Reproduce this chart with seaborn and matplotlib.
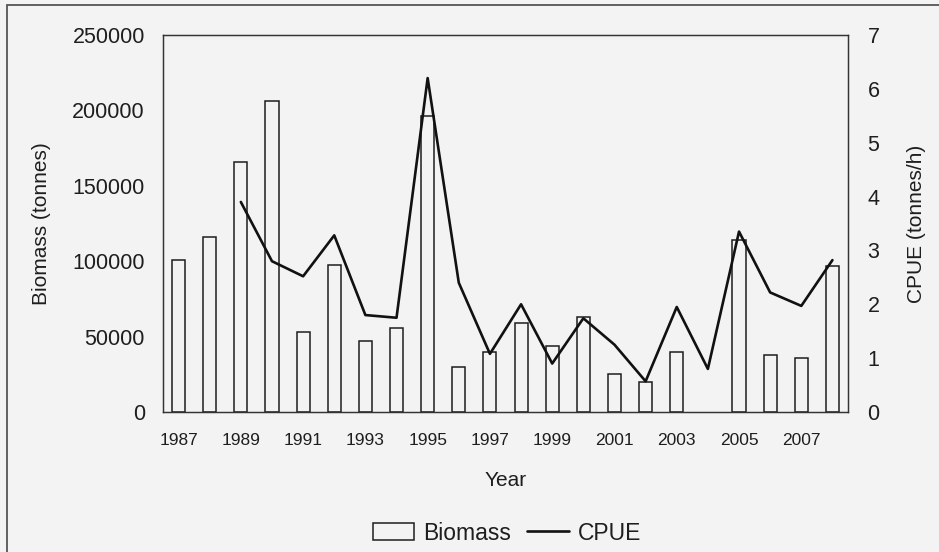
import matplotlib
matplotlib.use("Agg")
import matplotlib.pyplot as plt
from matplotlib.patches import Patch, Rectangle
from matplotlib.lines import Line2D
import numpy as np
import pandas as pd
import seaborn as sns

# ---- data ----
years = list(range(1987, 2009))
biomass = [101000, 116000, 166000, 206000, 53000, 97500, 47000, 55500,
           196000, 30000, 40000, 59000, 44000, 63000, 25000, 20000,
           39500, np.nan, 114000, 38000, 36000, 96500]
cpue_years = list(range(1989, 2009))
cpue = [3.9, 2.8, 2.52, 3.28, 1.8, 1.75, 6.2, 2.4, 1.08, 2.0,
        0.9, 1.74, 1.25, 0.57, 1.95, 0.8, 3.35, 2.22, 1.97, 2.82]
xtick_years = years[::2]

bg = "#f3f3f3"
ink = "#1e1e1e"

sns.set_theme(style="white")
plt.rcParams["font.family"] = ["Liberation Sans", "DejaVu Sans"]
plt.rcParams["text.color"] = ink
plt.rcParams["axes.labelcolor"] = ink
plt.rcParams["xtick.color"] = ink
plt.rcParams["ytick.color"] = ink

fig = plt.figure(figsize=(9.39, 5.52), dpi=100, facecolor=bg)
ax = fig.add_axes([163/939, 1-412/552, (848-163)/939, (412-35)/552])
ax.set_facecolor(bg)

df_b = pd.DataFrame({"Year": [str(y) for y in years], "Biomass": biomass})
sns.barplot(data=df_b, x="Year", y="Biomass", order=[str(y) for y in years],
            color=bg, edgecolor=ink, linewidth=1.1, width=0.42, ax=ax,
            saturation=1)
ax.set_ylim(0, 250000)
ax.set_yticks(np.arange(0, 250001, 50000))
ax.set_yticklabels([f"{v:d}" for v in range(0, 250001, 50000)], fontsize=15.5)
ax.set_xticks(range(0, len(years), 2))
ax.set_xticklabels([str(y) for y in xtick_years], fontsize=12.5)
ax.tick_params(axis="both", length=0)
ax.tick_params(axis="y", pad=13)
ax.tick_params(axis="x", pad=15)
ax.set_xlabel("Year", fontsize=15, labelpad=17)
ax.set_ylabel("Biomass (tonnes)", fontsize=15, labelpad=15)

ax2 = ax.twinx()
df_c = pd.DataFrame({"pos": [y - years[0] for y in cpue_years], "CPUE": cpue})
sns.lineplot(data=df_c, x="pos", y="CPUE", color="#111111", linewidth=1.9,
             ax=ax2, legend=False)
ax2.set_ylim(0, 7)
ax2.set_yticks(range(0, 8))
ax2.set_yticklabels([str(v) for v in range(0, 8)], fontsize=15.5)
ax2.tick_params(axis="y", length=0, pad=14)
ax2.set_ylabel("CPUE (tonnes/h)", fontsize=15, labelpad=20)
ax2.set_xlim(-0.5, len(years) - 0.5)

for a in (ax, ax2):
    for s in a.spines.values():
        s.set_color("#333333")
        s.set_linewidth(0.9)

# outer frame (left and top edges visible)
fig.patches.append(Rectangle((7/939, -0.2), 1.5, 1.2 - 5/552,
                             transform=fig.transFigure, fill=False,
                             edgecolor="#555555", linewidth=1.3))

handles = [Patch(facecolor=bg, edgecolor=ink, linewidth=1.1),
           Line2D([], [], color="#111111", linewidth=1.9)]
fig.legend(handles, ["Biomass", "CPUE"], loc="center",
           bbox_to_anchor=(507/939, 1-533/552), ncol=2, frameon=False,
           fontsize=16.5, handlelength=1.8, handleheight=0.7,
           handletextpad=0.4, columnspacing=0.7)

fig.savefig("out.png", dpi=100, facecolor=bg)
